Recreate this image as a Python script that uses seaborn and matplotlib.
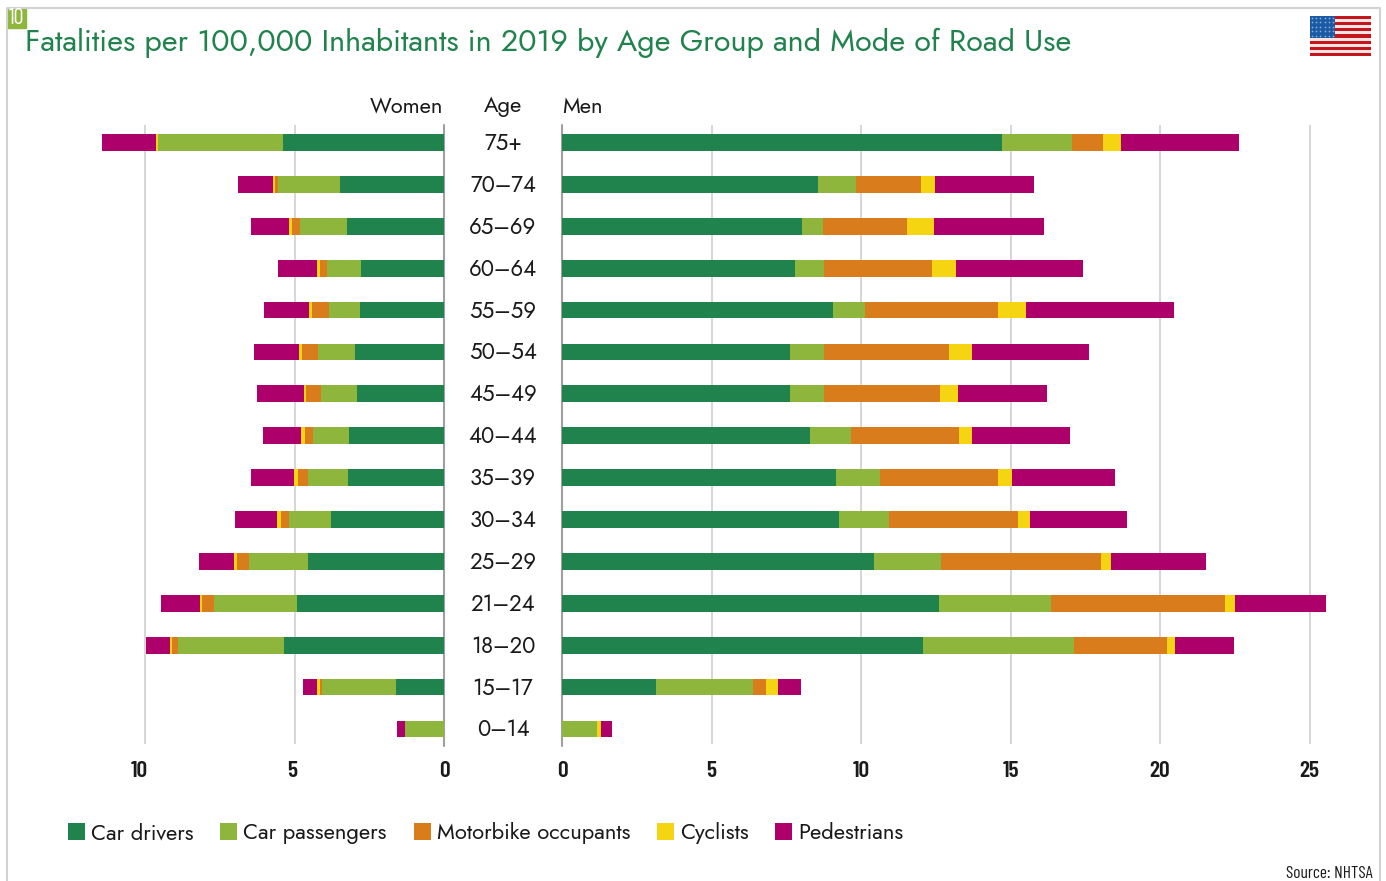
import numpy as np
import pandas as pd
import matplotlib.pyplot as plt
import seaborn as sns
from matplotlib.patches import Patch, Rectangle
from matplotlib.transforms import ScaledTranslation

ages = ["75+", "70–74", "65–69", "60–64", "55–59", "50–54", "45–49", "40–44",
        "35–39", "30–34", "25–29", "21–24", "18–20", "15–17", "0–14"]
modes = ["Car drivers", "Car passengers", "Motorbike occupants", "Cyclists", "Pedestrians"]
mode_colors = ["#20824c", "#8fb63c", "#d87c1c", "#f5d511", "#ad006a"]

women_drivers = [5.39, 3.47, 3.25, 2.78, 2.81, 2.98, 2.90, 3.18, 3.21, 3.77, 4.55, 4.91, 5.36, 1.60, 0.0]
women_passengers = [4.16, 2.08, 1.55, 1.12, 1.04, 1.22, 1.22, 1.19, 1.34, 1.43, 1.96, 2.77, 3.55, 2.48, 1.29]
women_motorbike = [0.03, 0.09, 0.29, 0.24, 0.56, 0.55, 0.49, 0.29, 0.35, 0.24, 0.41, 0.42, 0.20, 0.06, 0.01]
women_cyclists = [0.04, 0.08, 0.09, 0.10, 0.09, 0.11, 0.06, 0.13, 0.11, 0.13, 0.11, 0.07, 0.05, 0.11, 0.02]
women_pedestrians = [1.82, 1.17, 1.26, 1.32, 1.53, 1.50, 1.57, 1.26, 1.45, 1.43, 1.15, 1.29, 0.82, 0.48, 0.25]

men_drivers = [14.73, 8.55, 8.04, 7.80, 9.08, 7.64, 7.64, 8.28, 9.16, 9.28, 10.45, 12.60, 12.06, 3.15, 0.0]
men_passengers = [2.33, 1.29, 0.69, 0.96, 1.05, 1.13, 1.13, 1.40, 1.49, 1.65, 2.21, 3.75, 5.07, 3.23, 1.16]
men_motorbike = [1.05, 2.17, 2.82, 3.60, 4.46, 4.18, 3.88, 3.60, 3.94, 4.33, 5.38, 5.81, 3.10, 0.45, 0.02]
men_cyclists = [0.58, 0.47, 0.88, 0.82, 0.93, 0.75, 0.58, 0.42, 0.46, 0.40, 0.33, 0.36, 0.28, 0.38, 0.11]
men_pedestrians = [3.95, 3.29, 3.69, 4.23, 4.94, 3.91, 3.00, 3.29, 3.45, 3.22, 3.16, 3.04, 1.95, 0.79, 0.38]

women = [women_drivers, women_passengers, women_motorbike, women_cyclists, women_pedestrians]
men = [men_drivers, men_passengers, men_motorbike, men_cyclists, men_pedestrians]

W, H = 1386, 881
GREEN = "#20824c"
INK = "#1a1a1a"
NARROW = ['Barlow Condensed', 'Lato', 'DejaVu Sans']

sns.set_theme(style="white")
plt.rcParams['font.family'] = ['Jost', 'Lato', 'DejaVu Sans']


def px_axes(fig, x0, y0, x1, y1, **kw):
    # pixel box, y counted from the top
    return fig.add_axes([x0 / W, 1 - y1 / H, (x1 - x0) / W, (y1 - y0) / H], **kw)


def stacked(ax, parts):
    left = np.zeros(len(ages))
    for vals, col in zip(parts, mode_colors):
        sns.barplot(x=vals, y=ages, left=left, color=col, width=0.4, saturation=1,
                    linewidth=0, errorbar=None, orient="h", ax=ax, zorder=3)
        left = left + np.array(vals)


fig = plt.figure(figsize=(W / 100, H / 100), dpi=100, facecolor="white")

ax_w = px_axes(fig, 100, 125, 444, 744)
ax_m = px_axes(fig, 562, 125, 1340, 744)
stacked(ax_w, women)
stacked(ax_m, men)

ax_w.set_xlim(343.7 / 29.87, 0)
ax_m.set_xlim(0, 778 / 29.9)
ax_w.set_xticks([0, 5, 10])
ax_m.set_xticks([0, 5, 10, 15, 20, 25])

for ax in (ax_w, ax_m):
    ax.set_ylim(14.36, -0.42)
    ax.set_xlabel("")
    ax.set_ylabel("")
    ax.set_axisbelow(True)
    ax.grid(axis="x", color="#d6d6d6", linewidth=1.4)
    ax.tick_params(axis="x", length=0, pad=12.5, labelsize=17, labelcolor=INK)
    for lab in ax.get_xticklabels():
        lab.set_family(NARROW)
        lab.set_weight("semibold")
    sns.despine(ax=ax, left=True, bottom=True)
    ax.axvline(0, ymin=-0.003, color="#a0a0a0", linewidth=1.5, zorder=2, clip_on=False)

# the 10 on the women's side sits left of its gridline in the original
lab10 = ax_w.get_xticklabels()[2]
lab10.set_transform(lab10.get_transform() + ScaledTranslation(-6 / 100, 0, fig.dpi_scale_trans))
lab5 = ax_w.get_xticklabels()[1]
lab5.set_transform(lab5.get_transform() + ScaledTranslation(-2 / 100, 0, fig.dpi_scale_trans))

ax_w.tick_params(axis="y", left=False, labelleft=False)
ax_m.tick_params(axis="y", length=0, pad=42.5, labelsize=16, labelcolor=INK)
for lab in ax_m.get_yticklabels():
    lab.set_ha("center")
    lab.set_transform(lab.get_transform() + ScaledTranslation(0, 1.5 / 100, fig.dpi_scale_trans))

ax_w.set_title("Women", loc="right", fontsize=15.8, color=INK, pad=8.7, x=0.997)
ax_m.set_title("Men", loc="left", fontsize=15.8, color=INK, pad=8.7)
fig.text(503 / W, 1 - 112 / H, "Age", ha="center", va="baseline", fontsize=15.8, color=INK)

fig.text(25 / W, 1 - 51 / H, "Fatalities per 100,000 Inhabitants in 2019 by Age Group and Mode of Road Use",
         fontsize=22, color=GREEN, va="baseline")

# frame and number badge
fig.add_artist(plt.Line2D([7 / W, 7 / W, 1380 / W, 1380 / W], [0, 1 - 8 / H, 1 - 8 / H, 0],
                          color="#d2d2d2", linewidth=1.5))
fig.add_artist(Rectangle((7 / W, 1 - 28 / H), 19 / W, 19 / H, color="#8fb63c", transform=fig.transFigure))
fig.text(16.5 / W, 1 - 18.5 / H, "10", color="white", fontsize=16, ha="center", va="center", family=NARROW)

# flag
ax_f = px_axes(fig, 1310, 16, 1371, 56)
ax_f.set_xlim(0, 1)
ax_f.set_ylim(13, 0)
ax_f.axis("off")
for i in range(13):
    ax_f.add_patch(Rectangle((0, i), 1, 1, color="#c4161c" if i % 2 == 0 else "#f6e4e4", lw=0))
ax_f.add_patch(Rectangle((0, 0), 0.41, 7, color="#1d5aa6", lw=0))
sx, sy = np.meshgrid(np.linspace(0.04, 0.37, 6), np.linspace(0.6, 6.4, 5))
ax_f.scatter(sx.ravel(), sy.ravel(), s=1.5, color="#8fb0d8", linewidth=0)

fs = 15.85
fpx = fs / 0.72
handles = [Patch(facecolor=c, edgecolor="none", label=m) for m, c in zip(modes, mode_colors)]
fig.legend(handles=handles, ncol=5, loc="center left", bbox_to_anchor=(68 / W, 1 - 833 / H),
           frameon=False, fontsize=fs, labelcolor=INK, borderpad=0, borderaxespad=0,
           handlelength=17 / fpx, handleheight=17 / fpx, handletextpad=6 / fpx,
           columnspacing=26.7 / fpx)

fig.text(1373 / W, 1 - 878 / H, "Source: NHTSA", ha="right", va="baseline", fontsize=12.5, color=INK, family=NARROW)

fig.savefig("out.png", dpi=100)
